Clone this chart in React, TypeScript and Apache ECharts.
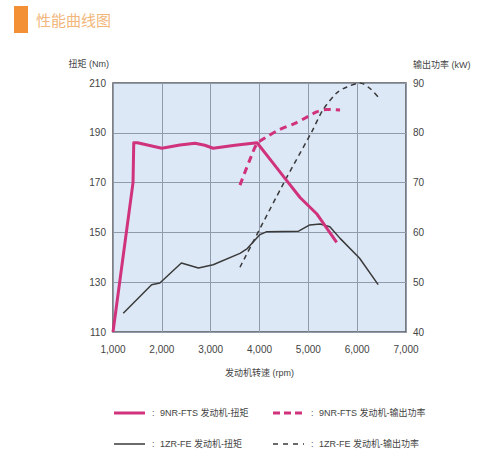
import React, { useEffect, useRef } from "react";
import * as echarts from "echarts";

const rpmTicks = [1000, 2000, 3000, 4000, 5000, 6000, 7000];
const TORQUE_MIN = 110;
const TORQUE_MAX = 210;
const POWER_MIN = 40;
const POWER_MAX = 90;

// [rpm, Nm]
const nrTorque: [number, number][] = [
  [1000, 110], [1410, 170], [1425, 186], [1500, 186], [2000, 183.8], [2370, 185.1],
  [2680, 185.8], [2880, 185], [3050, 183.8], [3500, 185], [3950, 186], [4250, 178.5],
  [4550, 171], [4830, 164], [5170, 157.5], [5580, 146],
];
// [rpm, kW]
const nrPower: [number, number][] = [
  [3600, 69.5], [3840, 75.5], [3950, 77.8], [4150, 79.2], [4400, 80.6], [4725, 81.9],
  [5000, 83.3], [5170, 84.2], [5380, 84.7], [5650, 84.6],
];
// [rpm, Nm]
const zrTorque: [number, number][] = [
  [1210, 117.5], [1790, 129], [1960, 129.7], [2400, 137.7], [2750, 135.7], [3050, 137],
  [3600, 141.6], [3750, 143.5], [4000, 149], [4150, 150.3], [4800, 150.5], [5030, 153],
  [5240, 153.4], [5440, 152.3], [5650, 147.6], [6050, 139.6], [6430, 129],
];
// [rpm, kW]
const zrPower: [number, number][] = [
  [3600, 53], [4490, 69.8], [5070, 80.2], [5300, 84.6], [5580, 88], [5790, 89.2],
  [6060, 90], [6250, 89], [6430, 87.2],
];

const legendNames = [
  "9NR-FTS 发动机-扭矩",
  "9NR-FTS 发动机-输出功率",
  "1ZR-FE 发动机-扭矩",
  "1ZR-FE 发动机-输出功率",
];

const PINK = "#d0327c";
const DARK = "#3a3a3a";
const FONT = "'Liberation Sans', 'Noto Sans CJK SC', sans-serif";

export default function App() {
  const ref = useRef<HTMLDivElement>(null);
  useEffect(() => {
    if (!ref.current) return;
    const chart = echarts.init(ref.current, undefined, { renderer: "svg" });
    const shiftT = (d: [number, number][]) => d.map(([r, v]) => [r, v - TORQUE_MIN]);
    const legendItem = (x: number, y: number, color: string, width: number, dash: number[] | null, label: string) => [
      {
        type: "line",
        shape: { x1: x, y1: y, x2: x + 31, y2: y },
        style: { stroke: color, lineWidth: width, lineDash: dash || undefined },
      },
      {
        type: "text",
        x: x + 38,
        y,
        style: { text: ":", fill: "#555", font: `9px ${FONT}`, verticalAlign: "middle" },
      },
      {
        type: "text",
        x: x + 46,
        y,
        style: { text: label, fill: "#444", font: `9px ${FONT}`, verticalAlign: "middle" },
      },
    ];
    chart.setOption({
      animation: false,
      backgroundColor: "#ffffff",
      grid: {
        left: 113,
        right: 94,
        top: 83,
        bottom: 130,
        show: true,
        backgroundColor: "#dde8f6",
        borderColor: "#555",
        borderWidth: 1.5,
      },
      xAxis: {
        type: "value",
        min: rpmTicks[0],
        max: rpmTicks[rpmTicks.length - 1],
        interval: 1000,
        axisLine: { show: false },
        axisTick: { show: false },
        axisLabel: {
          margin: 12,
          color: "#444",
          fontSize: 10,
          fontFamily: FONT,
          formatter: (v: number) => v.toLocaleString("en-US"),
        },
        splitLine: { show: true, lineStyle: { color: "#8f9bab", width: 1 } },
      },
      yAxis: [
        {
          type: "value",
          min: 0,
          max: TORQUE_MAX - TORQUE_MIN,
          interval: 20,
          position: "left",
          axisLine: { show: false },
          axisTick: { show: false },
          axisLabel: {
            margin: 7,
            color: "#444",
            fontSize: 10,
            fontFamily: FONT,
            formatter: (v: number) => String(v + TORQUE_MIN),
          },
          splitLine: { show: true, lineStyle: { color: "#8f9bab", width: 1 } },
        },
        {
          type: "value",
          min: POWER_MIN,
          max: POWER_MAX,
          interval: 10,
          position: "right",
          axisLine: { show: false },
          axisTick: { show: false },
          axisLabel: { margin: 7, color: "#444", fontSize: 10, fontFamily: FONT },
          splitLine: { show: false },
        },
      ],
      series: [
        {
          name: legendNames[1],
          type: "line",
          yAxisIndex: 1,
          data: nrPower,
          showSymbol: false,
          smooth: 0.3,
          lineStyle: { color: PINK, width: 3, type: [7, 5] },
          z: 3,
        },
        {
          name: legendNames[3],
          type: "line",
          yAxisIndex: 1,
          data: zrPower,
          showSymbol: false,
          smooth: 0.3,
          lineStyle: { color: DARK, width: 1.5, type: [5, 4] },
          z: 3,
        },
        {
          name: legendNames[2],
          type: "line",
          yAxisIndex: 0,
          data: shiftT(zrTorque),
          showSymbol: false,
          lineStyle: { color: DARK, width: 1.5 },
          z: 3,
        },
        {
          name: legendNames[0],
          type: "line",
          yAxisIndex: 0,
          data: shiftT(nrTorque),
          showSymbol: false,
          lineStyle: { color: PINK, width: 3, join: "round" },
          z: 4,
        },
      ],
      graphic: [
        { type: "rect", shape: { x: 14, y: 6, width: 14, height: 27 }, style: { fill: "#f39035" } },
        {
          type: "text",
          x: 36,
          y: 19,
          style: { text: "性能曲线图", fill: "#f2b67a", font: `15px 'Noto Sans CJK SC', sans-serif`, verticalAlign: "middle" },
        },
        {
          type: "text",
          x: 109,
          y: 64,
          style: { text: "扭矩 (Nm)", fill: "#444", font: `9px ${FONT}`, align: "right", verticalAlign: "middle" },
        },
        {
          type: "text",
          x: 413,
          y: 65,
          style: { text: "输出功率 (kW)", fill: "#444", font: `9px ${FONT}`, align: "left", verticalAlign: "middle" },
        },
        {
          type: "text",
          x: 259.5,
          y: 373,
          style: { text: "发动机转速 (rpm)", fill: "#444", font: `9px ${FONT}`, align: "center", verticalAlign: "middle" },
        },
        ...legendItem(114, 413, PINK, 3, null, legendNames[0]),
        ...legendItem(273, 413, PINK, 3, [7, 4], legendNames[1]),
        ...legendItem(114, 444, DARK, 1.5, null, legendNames[2]),
        ...legendItem(273, 444, DARK, 1.5, [5, 5], legendNames[3]),
      ],
    });
    return () => chart.dispose();
  }, []);
  return <div ref={ref} style={{ position: "absolute", left: 0, top: 0, width: 500, height: 462 }} />;
}
